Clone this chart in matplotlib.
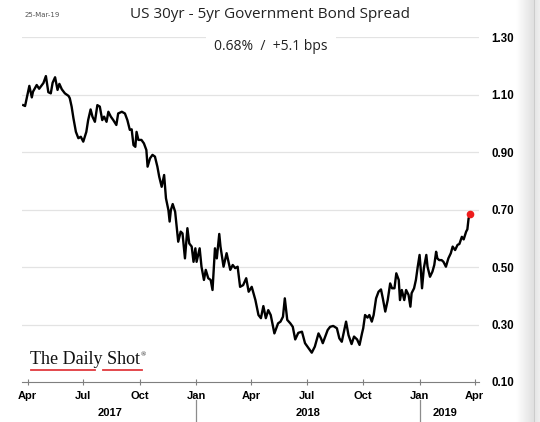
import numpy as np
import pandas as pd
import matplotlib
matplotlib.use('Agg')
import matplotlib.pyplot as plt
import matplotlib.dates as mdates
import matplotlib.transforms as mtransforms
from matplotlib.lines import Line2D

# values (percent)
dates = ['2017-03-25', '2017-03-28', '2017-04-04', '2017-04-08', '2017-04-10', '2017-04-16',
         '2017-04-20', '2017-04-27', '2017-05-01', '2017-05-05', '2017-05-09', '2017-05-12',
         '2017-05-16', '2017-05-20', '2017-05-23', '2017-05-27', '2017-06-01', '2017-06-07',
         '2017-06-09', '2017-06-12', '2017-06-15', '2017-06-19', '2017-06-23', '2017-06-27',
         '2017-07-01', '2017-07-06', '2017-07-09', '2017-07-13', '2017-07-16', '2017-07-20',
         '2017-07-24', '2017-07-28', '2017-08-01', '2017-08-04', '2017-08-08', '2017-08-11',
         '2017-08-15', '2017-08-19', '2017-08-24', '2017-08-27', '2017-09-02', '2017-09-07',
         '2017-09-11', '2017-09-15', '2017-09-18', '2017-09-21', '2017-09-24', '2017-09-26',
         '2017-09-29', '2017-10-04', '2017-10-08', '2017-10-12', '2017-10-14', '2017-10-18',
         '2017-10-22', '2017-10-26', '2017-10-30', '2017-11-02', '2017-11-06', '2017-11-10',
         '2017-11-13', '2017-11-17', '2017-11-19', '2017-11-21', '2017-11-24', '2017-11-28',
         '2017-12-03', '2017-12-07', '2017-12-10', '2017-12-14', '2017-12-18', '2017-12-21',
         '2017-12-25', '2017-12-28', '2017-12-31', '2018-01-02', '2018-01-07', '2018-01-10',
         '2018-01-14', '2018-01-17', '2018-01-21', '2018-01-25', '2018-01-28', '2018-02-01',
         '2018-02-04', '2018-02-08', '2018-02-10', '2018-02-15', '2018-02-20', '2018-02-26',
         '2018-03-02', '2018-03-06', '2018-03-10', '2018-03-14', '2018-03-19', '2018-03-24',
         '2018-03-28', '2018-04-02', '2018-04-08', '2018-04-13', '2018-04-17', '2018-04-21',
         '2018-04-25', '2018-04-29', '2018-05-03', '2018-05-09', '2018-05-15', '2018-05-19',
         '2018-05-23', '2018-05-26', '2018-05-30', '2018-06-04', '2018-06-08', '2018-06-12',
         '2018-06-17', '2018-06-23', '2018-06-28', '2018-07-04', '2018-07-09', '2018-07-14',
         '2018-07-20', '2018-07-24', '2018-07-27', '2018-07-31', '2018-08-04', '2018-08-08',
         '2018-08-13', '2018-08-19', '2018-08-23', '2018-08-27', '2018-08-31', '2018-09-03',
         '2018-09-07', '2018-09-12', '2018-09-16', '2018-09-21', '2018-09-25', '2018-09-29',
         '2018-10-01', '2018-10-04', '2018-10-08', '2018-10-11', '2018-10-15', '2018-10-18',
         '2018-10-22', '2018-10-26', '2018-10-30', '2018-11-02', '2018-11-06', '2018-11-10',
         '2018-11-14', '2018-11-17', '2018-11-21', '2018-11-24', '2018-11-28', '2018-11-30',
         '2018-12-03', '2018-12-07', '2018-12-10', '2018-12-14', '2018-12-17', '2018-12-19',
         '2018-12-23', '2018-12-26', '2018-12-29', '2019-01-01', '2019-01-03', '2019-01-05',
         '2019-01-08', '2019-01-12', '2019-01-14', '2019-01-18', '2019-01-22', '2019-01-25',
         '2019-01-28', '2019-01-30', '2019-02-02', '2019-02-06', '2019-02-09', '2019-02-13',
         '2019-02-17', '2019-02-21', '2019-02-24', '2019-02-28', '2019-03-04', '2019-03-07',
         '2019-03-11', '2019-03-14', '2019-03-18', '2019-03-20', '2019-03-22', '2019-03-25']
spread = [1.063, 1.060, 1.130, 1.090, 1.110, 1.133,
          1.120, 1.140, 1.164, 1.108, 1.104, 1.141,
          1.160, 1.116, 1.137, 1.118, 1.104, 1.095,
          1.087, 1.058, 1.017, 0.970, 0.948, 0.953,
          0.936, 0.970, 1.011, 1.048, 1.023, 1.005,
          1.063, 1.058, 1.011, 1.023, 1.005, 1.040,
          1.023, 1.011, 0.994, 1.034, 1.040, 1.034,
          1.011, 0.977, 0.979, 0.924, 0.918, 0.970,
          0.942, 0.942, 0.930, 0.907, 0.849, 0.878,
          0.890, 0.884, 0.849, 0.814, 0.779, 0.820,
          0.739, 0.698, 0.658, 0.698, 0.719, 0.692,
          0.588, 0.623, 0.617, 0.530, 0.635, 0.582,
          0.571, 0.518, 0.565, 0.518, 0.565, 0.501,
          0.455, 0.490, 0.461, 0.455, 0.420, 0.565,
          0.530, 0.615, 0.571, 0.501, 0.548, 0.490,
          0.507, 0.496, 0.501, 0.431, 0.437, 0.461,
          0.414, 0.431, 0.385, 0.333, 0.322, 0.364,
          0.322, 0.350, 0.333, 0.269, 0.304, 0.310,
          0.327, 0.391, 0.316, 0.304, 0.292, 0.248,
          0.271, 0.275, 0.235, 0.217, 0.202, 0.223,
          0.269, 0.252, 0.235, 0.258, 0.281, 0.292,
          0.295, 0.287, 0.252, 0.240, 0.281, 0.310,
          0.263, 0.232, 0.258, 0.248, 0.229, 0.269,
          0.287, 0.333, 0.324, 0.333, 0.310, 0.333,
          0.391, 0.414, 0.422, 0.391, 0.345, 0.385,
          0.443, 0.426, 0.426, 0.478, 0.455, 0.385,
          0.420, 0.385, 0.420, 0.403, 0.362, 0.409,
          0.426, 0.455, 0.501, 0.542, 0.490, 0.426,
          0.496, 0.542, 0.501, 0.466, 0.484, 0.507,
          0.553, 0.530, 0.524, 0.524, 0.518, 0.501,
          0.530, 0.548, 0.571, 0.559, 0.577, 0.580,
          0.605, 0.596, 0.623, 0.631, 0.669, 0.683]

yticks = [0.10, 0.30, 0.50, 0.70, 0.90, 1.10, 1.30]
years = ['2017', '2018', '2019']
title = 'US 30yr - 5yr Government Bond Spread'
subtitle = '0.68%  /  +5.1 bps'
stamp = '25-Mar-19'

s = pd.Series(spread, index=pd.to_datetime(dates))

W, H = 540, 422
fig = plt.figure(figsize=(W / 100, H / 100), dpi=100)
fig.patch.set_facecolor('white')

ax = fig.add_axes([22 / W, 1 - 382 / H, 457 / W, 345 / H])
ax.set_facecolor('white')
ax.set_xlim(pd.Timestamp('2017-03-23'), pd.Timestamp('2019-04-08'))
ax.set_ylim(0.10, 1.30)

for v in yticks[1:]:
    ax.axhline(v, color='#e3e3e3', lw=0.9, zorder=0)

ax.plot(s.index, s.values, color='black', lw=1.7, zorder=3)
ax.plot(s.index[-1], s.values[-1], 'o', color='#ee1c1c', ms=4.5, zorder=4)

for sp in ['top', 'left', 'right']:
    ax.spines[sp].set_visible(False)
ax.spines['bottom'].set_color('#7f7f7f')
ax.spines['bottom'].set_linewidth(0.8)

ax.xaxis.set_major_locator(mdates.MonthLocator(bymonth=[1, 4, 7, 10]))
ax.xaxis.set_major_formatter(mdates.DateFormatter('%b'))
ax.tick_params(axis='x', direction='inout', length=5, width=0.8, color='#7f7f7f',
               labelsize=8, pad=4)
for lab in ax.get_xticklabels():
    lab.set_fontweight('bold')
    lab.set_family('Liberation Sans')

ax.yaxis.tick_right()
ax.set_yticks(yticks)
ax.set_yticklabels(['%.2f' % v for v in yticks], fontsize=8.3, fontweight='bold',
                   family='Liberation Sans')
ax.tick_params(axis='y', length=0, pad=9)

# year bands under the axis, labels centred on the data inside each year
trans = mtransforms.blended_transform_factory(ax.transData, ax.transAxes)
bounds = [mdates.date2num(s.index[0]), mdates.date2num(pd.Timestamp('2018-01-01')),
          mdates.date2num(pd.Timestamp('2019-01-01')), mdates.date2num(s.index[-1])]
for b in bounds[1:-1]:
    ax.plot([b, b], [-0.052, -0.12], color='#8c8c8c', lw=0.9, transform=trans, clip_on=False)
for i, yr in enumerate(years):
    ax.text((bounds[i] + bounds[i + 1]) / 2, -0.09, yr, transform=trans, ha='center',
            va='center', fontsize=8, fontweight='bold', family='Liberation Sans')

fig.text(0.5, 1 - 15 / H, title, ha='center', va='center', fontsize=11,
         family='Open Sans', color='#222222')
fig.text(25 / W, 1 - 15 / H, stamp, ha='left', va='center', fontsize=5, color='#555555')
fig.text(271 / W, 1 - 46 / H, subtitle, ha='center', va='center', fontsize=10,
         family='Open Sans', color='#222222',
         bbox=dict(facecolor='white', edgecolor='none', pad=6), zorder=5)

# logo
logo = fig.text(30 / W, 1 - 360 / H, 'The Daily Shot', ha='left', va='center', fontsize=13,
                family='Liberation Serif', color='#111111')
fig.canvas.draw()
bb = logo.get_window_extent(fig.canvas.get_renderer())
fig.text(bb.x1 / (W) + 1 / W, 1 - 355 / H, '®', ha='left', va='center', fontsize=5,
         family='Liberation Serif', color='#111111')
for x0, x1 in [(31, 95), (103, 142)]:
    fig.add_artist(Line2D([x0 / W, x1 / W], [1 - 370 / H, 1 - 370 / H],
                          color='#e0393e', lw=1.3))

# screenshot edge shadow on the right
gax = fig.add_axes([516 / W, 0, 24 / W, 1])
shade = np.concatenate([np.linspace(1.0, 0.88, 18), [0.8], np.linspace(0.9, 0.93, 5)])
gax.imshow(np.tile(shade, (10, 1)), cmap='gray', vmin=0, vmax=1, aspect='auto',
           interpolation='bilinear', extent=[0, 1, 0, 1])
gax.axis('off')

fig.savefig('out.png', dpi=100, facecolor='white')
